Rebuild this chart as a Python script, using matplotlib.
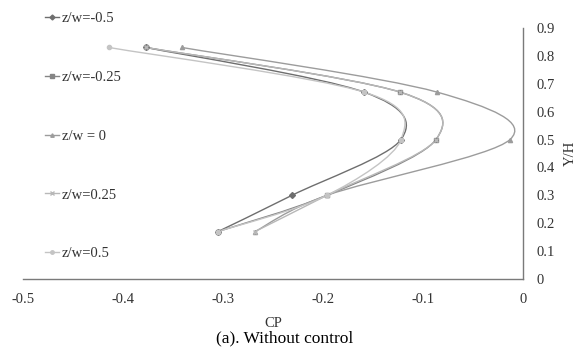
import numpy as np
import matplotlib
matplotlib.use("Agg")
import matplotlib.pyplot as plt
from matplotlib.path import Path
from matplotlib.patches import PathPatch
from matplotlib.lines import Line2D

plt.rcParams['font.family'] = ['Liberation Serif', 'DejaVu Serif']

yh = [0.17, 0.30, 0.50, 0.67, 0.83]
labels = ['z/w=-0.5', 'z/w=-0.25', 'z/w = 0', 'z/w=0.25', 'z/w=0.5']
cp_m050 = [-0.305, -0.231, -0.122, -0.159, -0.377]
cp_m025 = [-0.305, -0.196, -0.087, -0.123, -0.377]
cp_000 = [-0.268, -0.196, -0.013, -0.086, -0.341]
cp_p025 = [-0.268, -0.196, -0.087, -0.123, -0.377]
cp_p050 = [-0.305, -0.196, -0.122, -0.159, -0.414]

series = [cp_m050, cp_m025, cp_000, cp_p025, cp_p050]
colors = ['#6e6e6e', '#858585', '#9c9c9c', '#b8b8b8', '#c4c4c4']
markers = ['D', 's', '^', 'x', 'o']


def smooth_path(xs, ys):
    # excel style smoothed line: cubic bezier through the points
    pts = np.column_stack([xs, ys])
    n = len(pts)
    verts = [pts[0]]
    codes = [Path.MOVETO]
    for i in range(n - 1):
        p0 = pts[max(i - 1, 0)]
        p1 = pts[i]
        p2 = pts[i + 1]
        p3 = pts[min(i + 2, n - 1)]
        verts += [p1 + (p2 - p0) / 6, p2 - (p3 - p1) / 6, p2]
        codes += [Path.CURVE4] * 3
    return Path(verts, codes)


fig = plt.figure(figsize=(5.76, 3.54), dpi=100)
fig.patch.set_facecolor('w')
ax = fig.add_axes([0.04, 0.212, 0.868, 0.709])

handles = []
for cp, c, m, lab in zip(series, colors, markers, labels):
    ax.add_patch(PathPatch(smooth_path(cp, yh), fill=False, edgecolor=c, lw=1.0))
    ax.plot(cp, yh, ls='none', marker=m, ms=3, color=c, mec=c)
    handles.append(Line2D([], [], color=c, lw=1.0, marker=m, ms=2.5, mec=c, label=lab))

ax.set_xlim(-0.5, 0)
ax.set_ylim(0, 0.9)
ax.set_xticks(np.arange(-0.5, 0.01, 0.1))
ax.set_xticklabels(['-0.5', '-0.4', '-0.3', '-0.2', '-0.1', '0'])
ax.set_yticks(np.arange(0, 0.91, 0.1))
ax.set_yticklabels(['0'] + ['%.1f' % v for v in np.arange(0.1, 0.91, 0.1)])
ax.yaxis.tick_right()
ax.yaxis.set_label_position('right')
ax.tick_params(axis='both', length=0, labelsize=10.5, colors='#333333')
ax.tick_params(axis='x', pad=10)
ax.tick_params(axis='y', pad=10)
for s in ['top', 'left']:
    ax.spines[s].set_visible(False)
for s in ['bottom', 'right']:
    ax.spines[s].set_color('#7a7a7a')
    ax.spines[s].set_linewidth(1.0)

ax.set_xlabel('CP', fontsize=10.5, color='#333333', labelpad=8)
ax.set_ylabel('Y/H', fontsize=10.5, color='#333333', rotation=90, labelpad=6)

fig.legend(handles=handles, loc='upper left', bbox_to_anchor=(0.065, 0.986),
           frameon=False, fontsize=10.5, labelspacing=3.12, handlelength=1.0,
           handletextpad=0.15, borderpad=0, labelcolor='#333333')

fig.text(0.495, 0.045, '(a). Without control', ha='center', va='center', fontsize=12.5)

plt.savefig('out.png', dpi=100)
